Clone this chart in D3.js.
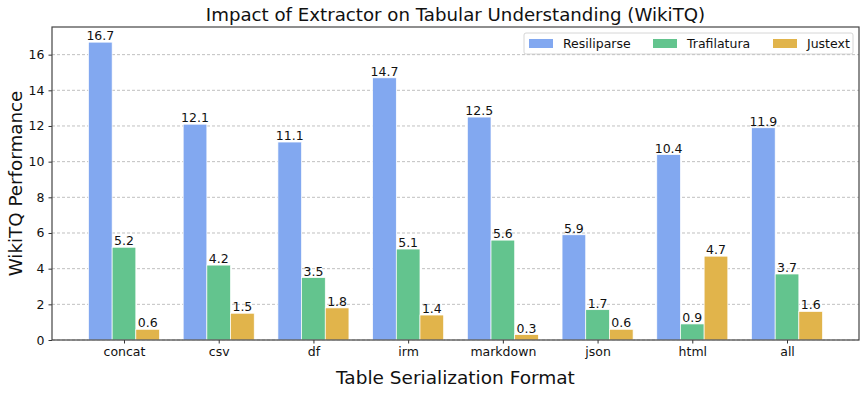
<html>
  <head>
    <style>
      body { margin: 0; background: #fff; }
      text { font-family: "DejaVu Sans", sans-serif; fill: #111; }
      .grid line { stroke: #b0b0b0; stroke-dasharray: 3,2; stroke-width: 0.8; }
    </style>
    <script src="https://cdnjs.cloudflare.com/ajax/libs/d3/7.8.5/d3.min.js"></script>
  </head>
  <body>
    <script>
      // chart data
      var categories = ["concat", "csv", "df", "irm", "markdown", "json", "html", "all"];
      var seriesNames = ["Resiliparse", "Trafilatura", "Justext"];
      var resiliparse = [16.7, 12.1, 11.1, 14.7, 12.5, 5.9, 10.4, 11.9];
      var trafilatura = [5.2, 4.2, 3.5, 5.1, 5.6, 1.7, 0.9, 3.7];
      var justext = [0.6, 1.5, 1.8, 1.4, 0.3, 0.6, 4.7, 1.6];
      var yTicks = [0, 2, 4, 6, 8, 10, 12, 14, 16];
      var colors = ["#82a8f0", "#63c48e", "#e1b44b"];

      var W = 867, H = 394;
      var mLeft = 52, mRight = 859, mTop = 27, mBottom = 340;

      var svg = d3.select("body").append("svg")
        .attr("width", W)
        .attr("height", H);

      var x = d3.scaleLinear().domain([-0.76, 7.76]).range([mLeft, mRight]);
      var y = d3.scaleLinear().domain([0, 17.55]).range([mBottom, mTop]);
      var bw = x(0.25) - x(0);

      // grid
      svg.append("g").attr("class", "grid")
        .selectAll("line").data(yTicks).enter().append("line")
        .attr("x1", mLeft).attr("x2", mRight)
        .attr("y1", function(d) { return y(d); })
        .attr("y2", function(d) { return y(d); });

      var series = [resiliparse, trafilatura, justext];
      series.forEach(function(vals, s) {
        var g = svg.append("g");
        g.selectAll("rect").data(vals).enter().append("rect")
          .attr("x", function(d, i) { return x(i + (s - 1) * 0.25) - bw / 2; })
          .attr("y", function(d) { return y(d); })
          .attr("width", bw)
          .attr("height", function(d) { return y(0) - y(d); })
          .attr("fill", colors[s])
          .attr("stroke", "#fff")
          .attr("stroke-width", 0.7);
        g.selectAll("text").data(vals).enter().append("text")
          .attr("x", function(d, i) { return x(i + (s - 1) * 0.25); })
          .attr("y", function(d) { return y(d) - 2; })
          .attr("text-anchor", "middle")
          .attr("font-size", 12.5)
          .text(function(d) { return d.toFixed(1); });
      });

      // axes
      var yAxis = d3.axisLeft(y).tickValues(yTicks).tickSize(3.5).tickPadding(4);
      var gy = svg.append("g").attr("transform", "translate(" + mLeft + ",0)").call(yAxis);
      gy.select(".domain").remove();
      gy.selectAll("text").attr("font-size", 12.5).style("font-family", "DejaVu Sans");
      gy.selectAll("line").attr("stroke", "#333");

      var xAxis = d3.axisBottom(x).tickValues(d3.range(categories.length))
        .tickFormat(function(i) { return categories[i]; }).tickSize(3.5).tickPadding(4);
      var gx = svg.append("g").attr("transform", "translate(0," + mBottom + ")").call(xAxis);
      gx.select(".domain").remove();
      gx.selectAll("text").attr("font-size", 12.5).style("font-family", "DejaVu Sans");
      gx.selectAll("line").attr("stroke", "#333");

      // frame
      svg.append("rect")
        .attr("x", mLeft).attr("y", mTop)
        .attr("width", mRight - mLeft).attr("height", mBottom - mTop)
        .attr("fill", "none").attr("stroke", "#444").attr("stroke-width", 1.2);

      // titles
      svg.append("text").attr("x", (mLeft + mRight) / 2).attr("y", 21)
        .attr("text-anchor", "middle").attr("font-size", 18.2)
        .text("Impact of Extractor on Tabular Understanding (WikiTQ)");
      svg.append("text").attr("x", (mLeft + mRight) / 2).attr("y", 384)
        .attr("text-anchor", "middle").attr("font-size", 18.5)
        .text("Table Serialization Format");
      svg.append("text")
        .attr("transform", "translate(22," + ((mTop + mBottom) / 2) + ") rotate(-90)")
        .attr("text-anchor", "middle").attr("font-size", 18.3)
        .text("WikiTQ Performance");

      // legend
      var lg = svg.append("g");
      lg.append("rect").attr("x", 524).attr("y", 33).attr("width", 329).attr("height", 21)
        .attr("rx", 2).attr("fill", "#fff").attr("fill-opacity", 0.85)
        .attr("stroke", "#ccc").attr("stroke-width", 0.8);
      var lx = [529, 653, 773];
      seriesNames.forEach(function(n, i) {
        lg.append("rect").attr("x", lx[i]).attr("y", 39).attr("width", 24).attr("height", 9)
          .attr("fill", colors[i]);
        lg.append("text").attr("x", lx[i] + 34).attr("y", 48).attr("font-size", 12.5).text(n);
      });
    </script>
  </body>
</html>
